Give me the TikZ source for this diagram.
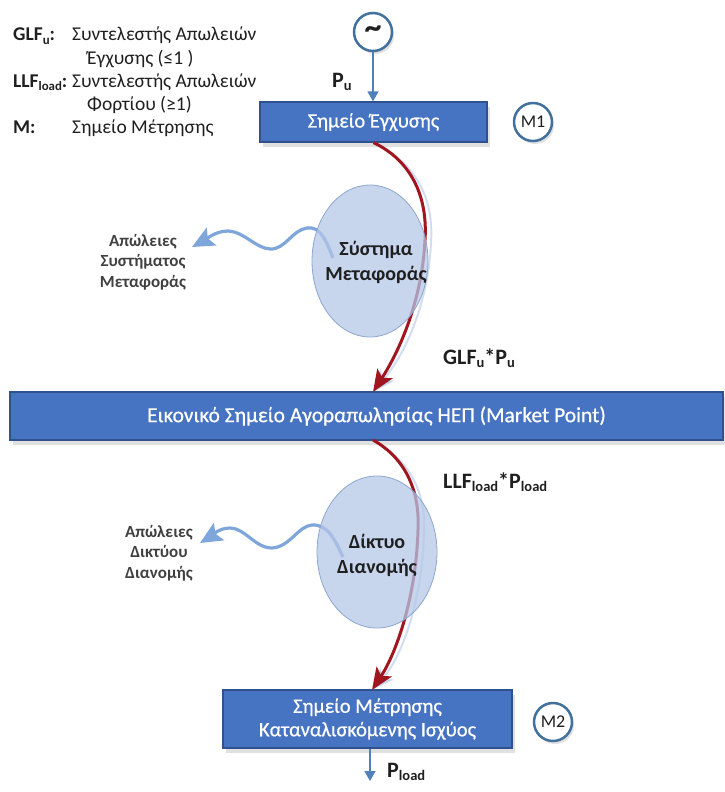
\documentclass[tikz,border=0pt]{standalone}
\usepackage{fontspec}
\setmainfont{Carlito}
% slightly heavier face for the white captions on the blue bars
\newfontface\boxface{Carlito}[FakeBold=0.6]
\usetikzlibrary{arrows.meta,shapes.geometric,shadows}

\definecolor{boxblue}{HTML}{4673C2}
\definecolor{boxedge}{HTML}{2F528F}
\definecolor{ringblue}{HTML}{41719C}
\definecolor{flowred}{HTML}{A0161E}
\definecolor{lossblue}{HTML}{7FA6DA}
\definecolor{cloud}{HTML}{B4C7E7}
\definecolor{cloudedge}{HTML}{8EA6CF}
\definecolor{arrowblue}{HTML}{4F81BD}
\definecolor{ink}{HTML}{1F1F1F}
\definecolor{grayink}{HTML}{404040}

% small lowered index, as used in GLF_u, LLF_load, P_load
\newcommand{\lowidx}[1]{\raisebox{-0.35ex}{\scalebox{0.66}{#1}}}

\tikzset{
  bluebox/.style={rectangle, fill=boxblue, draw=boxedge, line width=1.2pt,
    text=white, align=center, inner sep=0pt,
    drop shadow={shadow xshift=3pt, shadow yshift=-5pt, fill=black, opacity=0.12}},
  meter/.style={circle, fill=white, draw=ringblue, line width=2.5pt,
    minimum size=38pt, inner sep=0pt, text=ink,
    font=\fontsize{18}{20}\selectfont,
    drop shadow={shadow xshift=2pt, shadow yshift=-3pt, fill=black, opacity=0.12}},
  area/.style={ellipse, fill=cloud, fill opacity=0.75, draw=cloudedge,
    line width=0.8pt, inner sep=0pt},
  areatext/.style={text=ink, font=\bfseries\fontsize{20}{25}\selectfont, align=center},
  feed/.style={draw=arrowblue, line width=1.3pt, -{Triangle[length=10pt,width=11pt]}},
  flow/.style={draw=flowred, line width=3pt, -{Stealth[length=22pt,width=18pt,inset=5pt]}},
  flowglow/.style={draw=cloud, line width=2pt, opacity=0.6,
    -{Stealth[length=22pt,width=18pt,inset=5pt]}},
  leak/.style={draw=lossblue, line width=3.2pt, -{Stealth[length=22pt,width=20pt,inset=4pt]}},
  losslabel/.style={text=grayink, font=\bfseries\fontsize{17}{20.5}\selectfont,
    align=center, inner sep=0pt},
  qty/.style={font=\bfseries\fontsize{22}{24}\selectfont, anchor=base west,
    inner sep=0pt, text=ink},
  legend/.style={font=\fontsize{19.5}{23}\selectfont, anchor=base west, text=ink,
    inner sep=0pt},
}

\begin{document}
\begin{tikzpicture}[x=1pt,y=-1pt]
  \useasboundingbox (0,0) rectangle (725,792);

  % legend
  \node[legend] (l1a) at (13,41)  {\textbf{GLF\lowidx{u}:}};
  \node[legend] (l1b) at (72,41)  {Συντελεστής Απωλειών};
  \node[legend] (l1c) at (87,64)  {Έγχυσης (≤1 )};
  \node[legend] (l2a) at (13,87)  {\textbf{LLF\lowidx{load}:}};
  \node[legend] (l2b) at (72,87)  {Συντελεστής Απωλειών};
  \node[legend] (l2c) at (87,110) {Φορτίου (≥1)};
  \node[legend] (l3a) at (13,133) {\textbf{M:}};
  \node[legend] (l3b) at (72,133) {Σημείο Μέτρησης};

  % generator, injection point and its meter
  \node[meter, font=\bfseries\fontsize{34}{34}\selectfont] (gen) at (373,32) {\textasciitilde};
  \node[bluebox, minimum width=227pt, minimum height=40pt,
        font=\boxface\fontsize{20.5}{22}\selectfont] (inj) at (373.5,122) {Σημείο Έγχυσης};
  \node[meter] (m1) at (533,122) {M1};
  \draw[feed] (gen.south) -- (gen.south |- inj.north);
  \node[qty] (pu) at (332,87) {P\lowidx{u}};

  % market point bar
  \node[bluebox, minimum width=713pt, minimum height=48pt,
        font=\boxface\fontsize{21.5}{24}\selectfont] (mp) at (366.5,416)
        {\hspace*{20pt}Εικονικό Σημείο Αγοραπωλησίας ΗΕΠ (Market Point)};
  \coordinate (mpin)  at (373,392);
  \coordinate (mpout) at (373,440);

  % consumption metering point
  \node[bluebox, minimum width=289pt, minimum height=58pt,
        font=\boxface\fontsize{20.5}{23.5}\selectfont] (meas) at (367.5,719)
        {Σημείο Μέτρησης\\Καταναλισκόμενης Ισχύος};
  \node[meter] (m2) at (553,722) {M2};
  \coordinate (measin) at (372,690);
  \coordinate (load) at (370,781);
  \draw[feed] (meas.south -| load) -- (load);
  \node[qty] (pload) at (387,777) {P\lowidx{load}};

  % power flow through the transmission system
  \draw[flowglow, shift={(6,3)}] (inj.south)
     .. controls (410,160) and (428,195) .. (425,240)
     .. controls (422,300) and (400,350) .. (mpin);
  \draw[flow] (inj.south)
     .. controls (410,160) and (428,195) .. (425,240)
     .. controls (422,300) and (400,350) .. (mpin);
  \node[qty] (glf) at (443,364) {GLF\lowidx{u}*P\lowidx{u}};

  % power flow through the distribution network
  \draw[flowglow, shift={(6,3)}] (mpout)
     .. controls (405,458) and (420,490) .. (418,530)
     .. controls (416,600) and (395,655) .. (measin);
  \draw[flow] (mpout)
     .. controls (405,458) and (420,490) .. (418,530)
     .. controls (416,600) and (395,655) .. (measin);
  \node[qty] (llf) at (443,488) {LLF\lowidx{load}*P\lowidx{load}};

  % loss arrows
  \coordinate (sysloss) at (333,258);
  \coordinate (syslossend) at (192,247);
  \draw[leak] (sysloss) .. controls (326,240) and (320,226) .. (307,228)
     .. controls (292,230) and (285,250) .. (270,249)
     .. controls (255,248) and (245,232) .. (228,231)
     .. controls (215,231) and (205,240) .. (syslossend);
  \coordinate (netloss) at (343,557);
  \coordinate (netlossend) at (200,543);
  \draw[leak] (netloss) .. controls (335,540) and (328,524) .. (312,525)
     .. controls (298,526) and (290,547) .. (272,548)
     .. controls (255,548) and (245,528) .. (230,528)
     .. controls (218,528) and (210,537) .. (netlossend);

  % transmission system and distribution network
  \node[area, minimum width=116pt, minimum height=152pt] (sys) at (370,261) {};
  \node[areatext] (systxt) at (376,262) {Σύστημα\\Μεταφοράς};
  \node[area, minimum width=120pt, minimum height=152pt] (net) at (377,552) {};
  \node[areatext] (nettxt) at (377,555) {Δίκτυο\\Διανομής};

  % loss labels
  \node[losslabel] (syslab) at (143,262) {Απώλειες\\Συστήματος\\Μεταφοράς};
  \node[losslabel] (netlab) at (159,553) {Απώλειες\\Δικτύου\\Διανομής};
\end{tikzpicture}
\end{document}
